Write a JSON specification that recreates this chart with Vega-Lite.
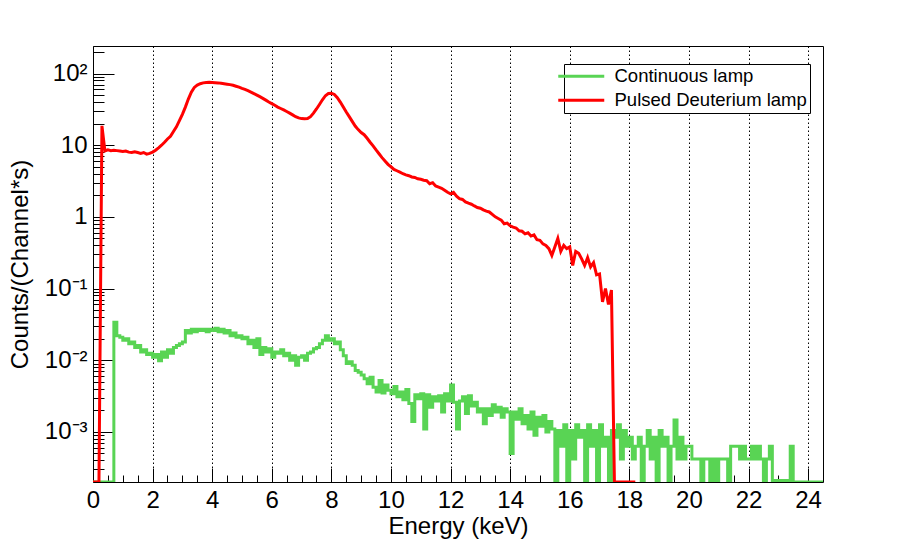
{
  "$schema": "https://vega.github.io/schema/vega-lite/v6.json",
  "autosize": {"type": "none"},
  "width": 730,
  "height": 436,
  "padding": {"left": 93, "top": 46, "right": 90, "bottom": 63},
  "background": "white",
  "data": {
    "values": [
      {"E":0.0,"g":0.0002,"r":0.0002},{"E":0.1,"g":0.0002,"r":0.0002},{"E":0.2,"g":0.0002,"r":0.0002},{"E":0.3,"g":0.0002,"r":18.6},
      {"E":0.4,"g":0.0002,"r":8.3},{"E":0.5,"g":0.0002,"r":8.6},{"E":0.6,"g":0.0002,"r":8.4},{"E":0.7,"g":0.034,"r":8.5},
      {"E":0.8,"g":0.022,"r":8.4},{"E":0.9,"g":0.021,"r":8.3},{"E":1.0,"g":0.019,"r":8.2},{"E":1.1,"g":0.020,"r":8.3},
      {"E":1.2,"g":0.017,"r":8.0},{"E":1.3,"g":0.018,"r":7.9},{"E":1.4,"g":0.015,"r":8.1},{"E":1.5,"g":0.016,"r":7.9},
      {"E":1.6,"g":0.013,"r":7.7},{"E":1.7,"g":0.014,"r":7.9},{"E":1.8,"g":0.012,"r":7.5},{"E":1.9,"g":0.0125,"r":7.7},
      {"E":2.0,"g":0.011,"r":8.0},{"E":2.1,"g":0.012,"r":8.5},{"E":2.2,"g":0.0098,"r":9.2},{"E":2.3,"g":0.013,"r":10.0},
      {"E":2.4,"g":0.011,"r":11.0},{"E":2.5,"g":0.014,"r":12.2},{"E":2.6,"g":0.0125,"r":13.3},{"E":2.7,"g":0.015,"r":15.5},
      {"E":2.8,"g":0.016,"r":18},{"E":2.9,"g":0.017,"r":22},{"E":3.0,"g":0.018,"r":27},{"E":3.1,"g":0.026,"r":34},
      {"E":3.2,"g":0.024,"r":44},{"E":3.3,"g":0.027,"r":55},{"E":3.4,"g":0.025,"r":64},{"E":3.5,"g":0.027,"r":69},
      {"E":3.6,"g":0.026,"r":72},{"E":3.7,"g":0.027,"r":74},{"E":3.8,"g":0.025,"r":75},{"E":3.9,"g":0.027,"r":75.5},
      {"E":4.0,"g":0.026,"r":75},{"E":4.1,"g":0.028,"r":74.5},{"E":4.2,"g":0.025,"r":74},{"E":4.3,"g":0.027,"r":73},
      {"E":4.4,"g":0.024,"r":72},{"E":4.5,"g":0.026,"r":71},{"E":4.6,"g":0.022,"r":70},{"E":4.7,"g":0.024,"r":68.5},
      {"E":4.8,"g":0.021,"r":66.5},{"E":4.9,"g":0.022,"r":64.5},{"E":5.0,"g":0.020,"r":62},{"E":5.1,"g":0.021,"r":60},
      {"E":5.2,"g":0.017,"r":57.5},{"E":5.3,"g":0.019,"r":55},{"E":5.4,"g":0.015,"r":52.5},{"E":5.5,"g":0.020,"r":50},
      {"E":5.6,"g":0.012,"r":47.5},{"E":5.7,"g":0.015,"r":45},{"E":5.8,"g":0.013,"r":42.5},{"E":5.9,"g":0.0145,"r":40},
      {"E":6.0,"g":0.011,"r":38},{"E":6.1,"g":0.013,"r":36},{"E":6.2,"g":0.0125,"r":34},{"E":6.3,"g":0.014,"r":32.5},
      {"E":6.4,"g":0.0115,"r":31},{"E":6.5,"g":0.0125,"r":29.5},{"E":6.6,"g":0.010,"r":28},{"E":6.7,"g":0.0115,"r":26.5},
      {"E":6.8,"g":0.0085,"r":25},{"E":6.9,"g":0.011,"r":24},{"E":7.0,"g":0.0115,"r":23.5},{"E":7.1,"g":0.010,"r":23.3},
      {"E":7.2,"g":0.0125,"r":23.5},{"E":7.3,"g":0.013,"r":25},{"E":7.4,"g":0.0145,"r":28},{"E":7.5,"g":0.015,"r":32},
      {"E":7.6,"g":0.017,"r":37},{"E":7.7,"g":0.019,"r":43},{"E":7.8,"g":0.022,"r":49},{"E":7.9,"g":0.019,"r":52.5},
      {"E":8.0,"g":0.020,"r":53},{"E":8.1,"g":0.017,"r":51},{"E":8.2,"g":0.018,"r":46},{"E":8.3,"g":0.014,"r":40},
      {"E":8.4,"g":0.0115,"r":34},{"E":8.5,"g":0.009,"r":29},{"E":8.6,"g":0.0095,"r":25},{"E":8.7,"g":0.0085,"r":21.5},
      {"E":8.8,"g":0.0072,"r":18.5},{"E":8.9,"g":0.0068,"r":16.5},{"E":9.0,"g":0.0062,"r":15},{"E":9.1,"g":0.0055,"r":14},
      {"E":9.2,"g":0.0047,"r":12.5},{"E":9.3,"g":0.0058,"r":11},{"E":9.4,"g":0.0042,"r":9.8},{"E":9.5,"g":0.0036,"r":8.6},
      {"E":9.6,"g":0.0052,"r":7.6},{"E":9.7,"g":0.0035,"r":6.7},{"E":9.8,"g":0.0045,"r":6.0},{"E":9.9,"g":0.0038,"r":5.4},
      {"E":10.0,"g":0.0034,"r":5.0},{"E":10.1,"g":0.0043,"r":4.6},{"E":10.2,"g":0.0031,"r":4.4},{"E":10.3,"g":0.0036,"r":4.2},
      {"E":10.4,"g":0.0028,"r":4.0},{"E":10.5,"g":0.0039,"r":3.85},{"E":10.6,"g":0.0025,"r":3.75},{"E":10.7,"g":0.0014,"r":3.6},
      {"E":10.8,"g":0.0033,"r":3.55},{"E":10.9,"g":0.0029,"r":3.4},{"E":11.0,"g":0.0034,"r":3.35},{"E":11.1,"g":0.0011,"r":3.25},
      {"E":11.2,"g":0.0033,"r":3.2},{"E":11.3,"g":0.0022,"r":2.9},{"E":11.4,"g":0.0031,"r":3.0},{"E":11.5,"g":0.0027,"r":2.7},
      {"E":11.6,"g":0.0032,"r":2.6},{"E":11.7,"g":0.0019,"r":2.5},{"E":11.8,"g":0.0034,"r":2.35},{"E":11.9,"g":0.0027,"r":2.2},
      {"E":12.0,"g":0.0045,"r":2.1},{"E":12.1,"g":0.0026,"r":2.2},{"E":12.2,"g":0.0011,"r":1.95},{"E":12.3,"g":0.0027,"r":1.8},
      {"E":12.4,"g":0.0031,"r":1.75},{"E":12.5,"g":0.0018,"r":1.62},{"E":12.6,"g":0.0032,"r":1.55},{"E":12.7,"g":0.0023,"r":1.5},
      {"E":12.8,"g":0.0026,"r":1.42},{"E":12.9,"g":0.0019,"r":1.35},{"E":13.0,"g":0.0021,"r":1.32},{"E":13.1,"g":0.0013,"r":1.25},
      {"E":13.2,"g":0.0021,"r":1.2},{"E":13.3,"g":0.0017,"r":1.17},{"E":13.4,"g":0.0024,"r":1.08},{"E":13.5,"g":0.0019,"r":1.0},
      {"E":13.6,"g":0.0022,"r":0.95},{"E":13.7,"g":0.0016,"r":0.9},{"E":13.8,"g":0.0021,"r":0.8},{"E":13.9,"g":0.0019,"r":0.82},
      {"E":14.0,"g":0.0005,"r":0.75},{"E":14.1,"g":0.0019,"r":0.72},{"E":14.2,"g":0.0015,"r":0.7},{"E":14.3,"g":0.0021,"r":0.64},
      {"E":14.4,"g":0.0013,"r":0.63},{"E":14.5,"g":0.0017,"r":0.58},{"E":14.6,"g":0.0011,"r":0.6},{"E":14.7,"g":0.0019,"r":0.54},
      {"E":14.8,"g":0.0009,"r":0.56},{"E":14.9,"g":0.0016,"r":0.48},{"E":15.0,"g":0.0012,"r":0.47},{"E":15.1,"g":0.0017,"r":0.42},
      {"E":15.2,"g":0.0010,"r":0.40},{"E":15.3,"g":0.0014,"r":0.36},{"E":15.4,"g":0.0011,"r":0.29},{"E":15.5,"g":0.0002,"r":0.38},
      {"E":15.6,"g":0.00105,"r":0.50},{"E":15.7,"g":0.00063,"r":0.33},{"E":15.8,"g":0.00126,"r":0.40},{"E":15.9,"g":0.0002,"r":0.36},
      {"E":16.0,"g":0.00105,"r":0.38},{"E":16.1,"g":0.00042,"r":0.21},{"E":16.2,"g":0.00126,"r":0.33},{"E":16.3,"g":0.00084,"r":0.31},
      {"E":16.4,"g":0.00105,"r":0.26},{"E":16.5,"g":0.0002,"r":0.21},{"E":16.6,"g":0.00126,"r":0.27},{"E":16.7,"g":0.00063,"r":0.20},
      {"E":16.8,"g":0.00105,"r":0.23},{"E":16.9,"g":0.00021,"r":0.155},{"E":17.0,"g":0.00126,"r":0.16},{"E":17.1,"g":0.00063,"r":0.065},
      {"E":17.2,"g":0.00084,"r":0.10},{"E":17.3,"g":0.0002,"r":0.06},{"E":17.4,"g":0.00105,"r":0.095},{"E":17.5,"g":0.00084,"r":0.0002},
      {"E":17.6,"g":0.00126,"r":0.0002},{"E":17.7,"g":0.00042,"r":0.0002},{"E":17.8,"g":0.00105,"r":0.0002},{"E":17.9,"g":0.00063,"r":0.0002},
      {"E":18.0,"g":0.00084,"r":0.0002},{"E":18.1,"g":0.00042,"r":0.0002},{"E":18.2,"g":0.00063,"r":0.0002},{"E":18.3,"g":0.00084},
      {"E":18.4,"g":0.0002},{"E":18.5,"g":0.00063},{"E":18.6,"g":0.00105},{"E":18.7,"g":0.00042},
      {"E":18.8,"g":0.00084},{"E":18.9,"g":0.00021},{"E":19.0,"g":0.00105},{"E":19.1,"g":0.00063},
      {"E":19.2,"g":0.00084},{"E":19.3,"g":0.0002},{"E":19.4,"g":0.00063},{"E":19.5,"g":0.00147},
      {"E":19.6,"g":0.00042},{"E":19.7,"g":0.00084},{"E":19.8,"g":0.00042},{"E":19.9,"g":0.00063},
      {"E":20.0,"g":0.00063},{"E":20.1,"g":0.00042},{"E":20.2,"g":0.00042},{"E":20.3,"g":0.00042},
      {"E":20.4,"g":0.00021},{"E":20.5,"g":0.00042},{"E":20.6,"g":0.00042},{"E":20.7,"g":0.0002},
      {"E":20.8,"g":0.00042},{"E":20.9,"g":0.00021},{"E":21.0,"g":0.00042},{"E":21.1,"g":0.00042},
      {"E":21.2,"g":0.00042},{"E":21.3,"g":0.0002},{"E":21.4,"g":0.00063},{"E":21.5,"g":0.00063},
      {"E":21.6,"g":0.00063},{"E":21.7,"g":0.00042},{"E":21.8,"g":0.00063},{"E":21.9,"g":0.00042},
      {"E":22.0,"g":0.00042},{"E":22.1,"g":0.00063},{"E":22.2,"g":0.00042},{"E":22.3,"g":0.00063},
      {"E":22.4,"g":0.00042},{"E":22.5,"g":0.0002},{"E":22.6,"g":0.00042},{"E":22.7,"g":0.00063},
      {"E":22.8,"g":0.00021},{"E":22.9,"g":0.0002},{"E":23.0,"g":0.00021},{"E":23.1,"g":0.0002},
      {"E":23.2,"g":0.00021},{"E":23.3,"g":0.0002},{"E":23.4,"g":0.00063},{"E":23.5,"g":0.0002},
      {"E":23.6,"g":0.0002},{"E":23.8,"g":0.0002},{"E":24.0,"g":0.0002},{"E":24.2,"g":0.0002},
      {"E":24.5,"g":0.0002}
    ]
  },
  "transform": [
    {"fold": ["g", "r"], "as": ["lamp", "cnt"]},
    {"filter": "isValid(datum.cnt)"}
  ],
  "layer": [
    {
      "mark": {"type": "line", "opacity": 0, "clip": true},
      "encoding": {
        "x": {
          "field": "E",
          "type": "quantitative",
          "scale": {"domain": [0, 24.5], "nice": false, "zero": false},
          "axis": {
            "orient": "bottom",
            "values": [0.5,1,1.5,2.5,3,3.5,4.5,5,5.5,6.5,7,7.5,8.5,9,9.5,10.5,11,11.5,12.5,13,13.5,14.5,15,15.5,16.5,17,17.5,18.5,19,19.5,20.5,21,21.5,22.5,23,23.5],
            "tickSize": -7,
            "tickColor": "black",
            "labels": false,
            "domain": false,
            "grid": false,
            "title": null
          }
        },
        "y": {
          "field": "cnt",
          "type": "quantitative",
          "scale": {"type": "log", "domain": [0.0002, 242], "nice": false},
          "axis": {
            "orient": "left",
            "values": [0.0003,0.0004,0.0005,0.0006,0.0007,0.0008,0.0009,0.002,0.003,0.004,0.005,0.006,0.007,0.008,0.009,0.02,0.03,0.04,0.05,0.06,0.07,0.08,0.09,0.2,0.3,0.4,0.5,0.6,0.7,0.8,0.9,2,3,4,5,6,7,8,9,20,30,40,50,60,70,80,90,200],
            "tickSize": -11,
            "tickColor": "black",
            "labels": false,
            "domain": false,
            "grid": false,
            "title": null
          }
        },
        "detail": {"field": "lamp"}
      }
    },
    {
      "transform": [{"filter": "datum.lamp == 'g'"}],
      "mark": {"type": "line", "interpolate": "step-after", "strokeWidth": 3, "clip": true},
      "encoding": {
        "x": {
          "field": "E",
          "type": "quantitative",
          "axis": {
            "orient": "bottom",
            "values": [0,2,4,6,8,10,12,14,16,18,20,22,24],
            "tickSize": -14,
            "tickColor": "black",
            "labelPadding": 20,
            "labelFlush": false,
            "labelFontSize": 24,
            "labelColor": "black",
            "domain": false,
            "grid": true,
            "gridColor": "black",
            "gridDash": [1.5, 2.5],
            "gridOpacity": 1,
            "title": "Energy (keV)",
            "titleFontSize": 24,
            "titleFontWeight": "normal",
            "titleColor": "black",
            "titlePadding": 2
          }
        },
        "y": {
          "field": "cnt",
          "type": "quantitative",
          "axis": {
            "orient": "left",
            "values": [0.001, 0.01, 0.1, 1, 10, 100],
            "labelExpr": "datum.value > 50 ? '10²' : datum.value > 5 ? '10' : datum.value > 0.5 ? '1' : datum.value > 0.05 ? '10⁻¹' : datum.value > 0.005 ? '10⁻²' : '10⁻³'",
            "tickSize": -21,
            "tickColor": "black",
            "labelPadding": 27,
            "labelFontSize": 24,
            "labelColor": "black",
            "domain": false,
            "grid": false,
            "title": "Counts/(Channel*s)",
            "titleFontSize": 24,
            "titleFontWeight": "normal",
            "titleColor": "black",
            "titlePadding": 12
          }
        },
        "order": {"field": "E", "type": "quantitative"},
        "color": {
          "field": "lamp",
          "type": "nominal",
          "scale": {"domain": ["g", "r"], "range": ["#59d454", "#ff0000"]},
          "legend": {
            "orient": "none",
            "legendX": 471,
            "legendY": 18,
            "title": null,
            "labelExpr": "datum.label == 'g' ? 'Continuous lamp' : 'Pulsed Deuterium lamp'",
            "symbolType": "M-3.6,0H5.6",
            "symbolStrokeWidth": 3,
            "symbolSize": 100,
            "labelFontSize": 18.5,
            "labelColor": "black",
            "labelOffset": 29,
            "labelLimit": 400,
            "rowPadding": 5,
            "strokeColor": "black",
            "fillColor": "white",
            "padding": 3
          }
        }
      }
    },
    {
      "transform": [{"filter": "datum.lamp == 'r'"}],
      "mark": {"type": "line", "interpolate": "linear", "strokeWidth": 3, "clip": true},
      "encoding": {
        "x": {"field": "E", "type": "quantitative", "axis": null},
        "y": {"field": "cnt", "type": "quantitative", "axis": null},
        "order": {"field": "E", "type": "quantitative"},
        "color": {"field": "lamp", "type": "nominal"}
      }
    }
  ],
  "resolve": {"axis": {"x": "independent", "y": "independent"}},
  "config": {
    "font": "Liberation Sans",
    "view": {"stroke": "black", "strokeWidth": 1}
  }
}
